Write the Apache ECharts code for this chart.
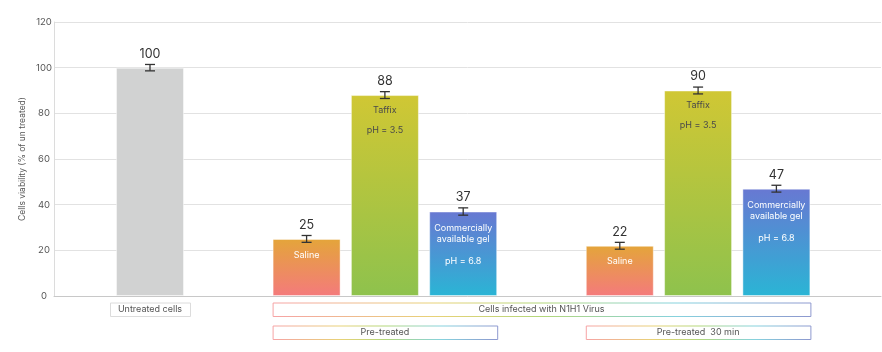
<!DOCTYPE html>
<html><head><meta charset="utf-8">
<script src="https://cdn.jsdelivr.net/npm/echarts@6/dist/echarts.min.js"></script>
<style>html,body{margin:0;padding:0;background:#fff}#c{width:882px;height:352px}</style>
</head><body><div id="c"></div>
<script>
// ---- data ----
var slots = [0, 2, 3, 4, 6, 7, 8];                 // bar positions along the x axis
var kinds = ['untreated','saline','taffix','gel','saline','taffix','gel'];
var values = [100, 25, 88, 37, 22, 90, 47];
var errors = [1.4, 1.5, 1.5, 1.6, 1.5, 1.5, 1.5];
var yTicks = [0, 20, 40, 60, 80, 100, 120];
var innerLabels = {
  untreated: '',
  saline: 'Saline',
  taffix: 'Taffix\n\npH = 3.5',
  gel: 'Commercially\navailable gel\n\npH = 6.8'
};
var groupBoxes = [
  {text: 'Untreated cells', from: 0, to: 0, row: 0, pad: 6, plain: true},
  {text: 'Cells infected with N1H1 Virus', from: 2, to: 8, row: 0, pad: 0},
  {text: 'Pre-treated', from: 2, to: 4, row: 1, pad: 0},
  {text: 'Pre-treated  30 min', from: 6, to: 8, row: 1, pad: 0}
];
var yName = 'Cells viability (% of un treated)';

// ---- styles ----
var FONT = 'Inter, "Noto Sans", sans-serif';
function grad(top, bottom){
  return new echarts.graphic.LinearGradient(0,0,0,1,[{offset:0,color:top},{offset:1,color:bottom}]);
}
var fills = {
  untreated: '#d1d2d2',
  saline: grad('#e4a53a','#f47a7c'),
  taffix: grad('#d0c734','#8ec24d'),
  gel: grad('#6878d2','#2ab5d5')
};
var labelColors = {untreated:'#fff', saline:'#fff', taffix:'#4a4a4a', gel:'#fff'};
var labelLH = {untreated:10, saline:10, taffix:10, gel:11};

var barData = values.map(function(v,i){
  var k = kinds[i];
  return {
    value: [slots[i], v],
    itemStyle: {color: fills[k], borderColor: 'rgba(255,255,255,0.45)', borderWidth: 1},
    label: {
      show: !!innerLabels[k], formatter: innerLabels[k], position: 'insideTop',
      distance: k === 'taffix' ? 10 : 11, color: labelColors[k], fontSize: 9,
      lineHeight: labelLH[k], fontFamily: FONT, align: 'center'
    }
  };
});
var errData = values.map(function(v,i){ return [slots[i], v, errors[i]]; });

var chart = echarts.init(document.getElementById('c'));
var BAR_W = 68;
chart.setOption({
  animation: false,
  grid: {left: 54, right: 1, top: 22, bottom: 56},
  xAxis: {
    type: 'value', min: -1.226, max: 9.336,
    axisLine: {show: true, onZero: false, lineStyle: {color: '#c8c8c8', width: 1}},
    axisTick: {show: false}, axisLabel: {show: false}, splitLine: {show: false}
  },
  yAxis: {
    type: 'value', min: 0, max: 120, interval: 20,
    name: yName, nameLocation: 'middle', nameGap: 27, nameMoveOverlap: false,
    nameTextStyle: {fontSize: 8.5, color: '#555', fontFamily: FONT},
    axisLine: {show: true, onZero: false, lineStyle: {color: '#dcdcdc'}},
    axisTick: {show: false},
    axisLabel: {fontSize: 9.5, color: '#555', fontFamily: FONT, margin: 10, align: 'center',
      formatter: function(v){ return yTicks.indexOf(v) >= 0 ? String(v) : ''; }},
    splitLine: {show: true, lineStyle: {color: '#e2e2e2', width: 1}}
  },
  series: [
    {type: 'bar', data: barData, barWidth: BAR_W, z: 2},
    {
      type: 'custom', data: errData, z: 5,
      renderItem: function(params, api){
        var x = api.value(0), y = api.value(1), e = api.value(2);
        var top = api.coord([x, y + e]), bot = api.coord([x, y - e]);
        var cx = top[0], hw = 5;
        var st = {stroke: '#333', lineWidth: 1.3};
        return {type: 'group', children: [
          {type: 'line', shape: {x1: cx, y1: top[1], x2: cx, y2: bot[1]}, style: st},
          {type: 'line', shape: {x1: cx-hw, y1: top[1], x2: cx+hw, y2: top[1]}, style: st},
          {type: 'line', shape: {x1: cx-hw, y1: bot[1], x2: cx+hw, y2: bot[1]}, style: st},
          {type: 'text', x: cx, y: top[1] - 10.5, style: {text: String(y), fill: '#333',
            font: '12.5px ' + FONT, textAlign: 'center', textVerticalAlign: 'middle'}}
        ]};
      }
    }
  ]
});

// group boxes below the axis, aligned to bar edges
var rainbow = new echarts.graphic.LinearGradient(0,0,1,0,[
  {offset:0,color:'#f6a3a5'},{offset:0.3,color:'#e8d277'},{offset:0.5,color:'#b3d77a'},
  {offset:0.75,color:'#86d2de'},{offset:1,color:'#8e98cf'}]);
var half = BAR_W / 2;
var els = groupBoxes.map(function(g){
  var p1 = chart.convertToPixel({xAxisIndex:0, yAxisIndex:0}, [g.from, 0]);
  var p2 = chart.convertToPixel({xAxisIndex:0, yAxisIndex:0}, [g.to, 0]);
  var x1 = p1[0] - half - g.pad, x2 = p2[0] + half + g.pad;
  var y = p1[1] + 6.5 + g.row * 23, h = 13.5;
  return {type: 'group', children: [
    {type: 'rect', shape: {x: x1 + 0.5, y: y + 0.5, width: x2 - x1, height: h},
      style: {fill: '#fff', stroke: g.plain ? '#dcdcdc' : rainbow, lineWidth: 1}},
    {type: 'text', x: (x1 + x2) / 2, y: y + h / 2 + 0.5,
      style: {text: g.text, fill: '#555', font: '9px ' + FONT, textAlign: 'center', textVerticalAlign: 'middle'}}
  ]};
});
chart.setOption({graphic: els});
</script></body></html>
